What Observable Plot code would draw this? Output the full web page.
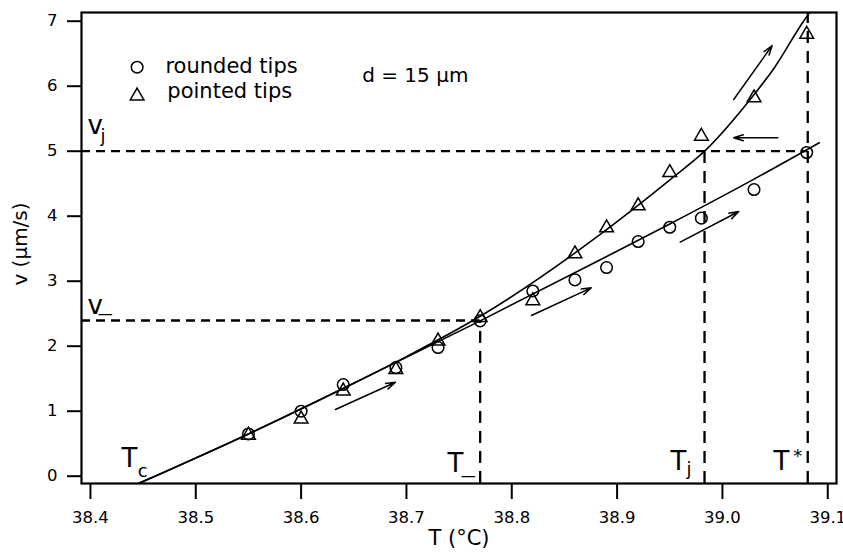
<!DOCTYPE html>
<html><head><meta charset="utf-8">
<script src="https://cdn.jsdelivr.net/npm/d3@7"></script>
<script src="https://cdn.jsdelivr.net/npm/@observablehq/plot@0.6"></script>
<style>body{margin:0;background:#fff} svg{display:block}</style>
</head><body><div id="chart"></div>
<script>
// ---- data ----
const tempT = [38.55,38.60,38.64,38.69,38.73,38.77,38.82,38.86,38.89,38.92,38.95,38.98,39.03,39.08];
const roundedV = [0.65,1.00,1.41,1.67,1.98,2.39,2.85,3.02,3.21,3.61,3.83,3.97,4.41,4.98];
const pointedV = [0.63,0.88,1.31,1.64,2.08,2.44,2.70,3.42,3.82,4.16,4.67,5.23,5.82,6.80];

// fitted curves
const lowerFitT = [38.446,38.55,38.65,38.77,38.884,38.95,39.03,39.092];
const lowerFitV = [-0.11,0.65,1.43,2.39,3.33,3.88,4.57,5.13];
const upperFitT = [38.446,38.55,38.65,38.70,38.77,38.884,38.951,38.983,39.025,39.05,39.077,39.085];
const upperFitV = [-0.11,0.65,1.43,1.84,2.46,3.72,4.57,5.00,5.77,6.30,7.00,7.18];

const xTicks = [38.4,38.5,38.6,38.7,38.8,38.9,39.0,39.1];
const yTicks = [0,1,2,3,4,5,6,7];
const xDomain = [38.3915, 39.1083];
const yDomain = [-0.1123, 7.1338];

// dashed reference lines
const levelV = [5.0, 2.395];
const levelEndT = [39.081, 38.77];
const tempLineT = [38.77, 38.983, 39.081];
const tempLineTopV = [2.395, 5.0, 7.1338];

// arrows: start (T,v) -> end (T,v)
const arrowT1 = [38.6326, 38.8187, 38.9599, 39.0525, 39.0107];
const arrowV1 = [1.026, 2.472, 3.600, 5.206, 5.795];
const arrowT2 = [38.6896, 38.8754, 39.0155, 39.0107, 39.0472];
const arrowV2 = [1.446, 2.898, 4.072, 5.206, 6.626];

// annotation labels
const bigText = ["T", "T", "T", "T", "v", "v"];
const bigT = [38.4294, 38.7389, 38.9507, 39.0485, 38.3972, 38.3972];
const bigV = [0.134, 0.0615, 0.0877, 0.0877, 5.272, 2.503];
const subText = ["c", "j", "*", "j"];
const subT = [38.4450, 38.9660, 39.0672, 38.4095];
const subV = [-0.005, 0.011, 0.215, 5.134];
const dashText = ["\u2014", "\u2014"];
const dashT = [38.7515, 38.4070];
const dashV = [-0.075, 2.415];

const circleLegendText = ["rounded tips"];
const triangleLegendText = ["pointed tips"];
const legendTextT = [38.4712, 38.4730];
const legendTextV = [6.20, 5.822];
const legendSymT = [38.4443, 38.4443];
const legendSymV = [6.292, 5.85];
const noteText = ["d = 15 \u00b5m"];
const noteT = [38.658];
const noteV = [6.065];

// ---- tables built from the arrays ----
const rounded = tempT.map((t, i) => ({T: t, v: roundedV[i]}));
const pointed = tempT.map((t, i) => ({T: t, v: pointedV[i]}));
const lowerFit = lowerFitT.map((t, i) => ({T: t, v: lowerFitV[i]}));
const upperFit = upperFitT.map((t, i) => ({T: t, v: upperFitV[i]}));
const levels = levelV.map((v, i) => ({v, T1: xDomain[0], T2: levelEndT[i]}));
const tempLines = tempLineT.map((t, i) => ({T: t, v1: yDomain[0], v2: tempLineTopV[i]}));
const arrows = arrowT1.map((t, i) => ({T1: t, v1: arrowV1[i], T2: arrowT2[i], v2: arrowV2[i]}));
const bigLabels = bigText.map((s, i) => ({s, T: bigT[i], v: bigV[i]}));
const subLabels = subText.map((s, i) => ({s, T: subT[i], v: subV[i]}));
const dashLabels = dashText.map((s, i) => ({s, T: dashT[i], v: dashV[i]}));
const legendLabels = [
  {s: circleLegendText[0], T: legendTextT[0], v: legendTextV[0]},
  {s: triangleLegendText[0], T: legendTextT[1], v: legendTextV[1]}
];
const legendCircle = [{T: legendSymT[0], v: legendSymV[0]}];
const legendTriangle = [{T: legendSymT[1], v: legendSymV[1]}];
const notes = noteText.map((s, i) => ({s, T: noteT[i], v: noteV[i]}));

const plot = Plot.plot({
  width: 843, height: 552,
  marginLeft: 81, marginRight: 7, marginTop: 12, marginBottom: 69,
  x: {domain: xDomain},
  y: {domain: yDomain},
  style: {fontFamily: "DejaVu Sans", fontSize: "16.5px", color: "black", background: "white"},
  marks: [
    Plot.axisX({ticks: xTicks, tickFormat: d3.format(".1f"), tickSize: 16, tickPadding: 12, strokeWidth: 2, label: null}),
    Plot.axisY({ticks: yTicks, tickFormat: d3.format("d"), tickSize: 14, tickPadding: 10, strokeWidth: 2, label: null}),
    Plot.ruleY(levels, {y: "v", x1: "T1", x2: "T2", strokeWidth: 2.3, strokeDasharray: "9,6"}),
    Plot.ruleX(tempLines, {x: "T", y1: "v1", y2: "v2", strokeWidth: 2.3, strokeDasharray: "12,8"}),
    Plot.line(lowerFit, {x: "T", y: "v", curve: "monotone-x", strokeWidth: 1.6, clip: true}),
    Plot.line(upperFit, {x: "T", y: "v", curve: "monotone-x", strokeWidth: 1.6, clip: true}),
    Plot.dot(rounded, {x: "T", y: "v", symbol: "circle", r: 5.8, stroke: "black", strokeWidth: 1.5, fill: "none"}),
    Plot.dot(pointed, {x: "T", y: "v", symbol: "triangle", r: 5.1, stroke: "black", strokeWidth: 1.5, fill: "none"}),
    Plot.arrow(arrows, {x1: "T1", y1: "v1", x2: "T2", y2: "v2", headLength: 10, headAngle: 35, strokeWidth: 1.5}),
    Plot.dot(legendCircle, {x: "T", y: "v", symbol: "circle", r: 5.8, stroke: "black", strokeWidth: 1.5, fill: "none"}),
    Plot.dot(legendTriangle, {x: "T", y: "v", symbol: "triangle", r: 5.1, stroke: "black", strokeWidth: 1.5, fill: "none"}),
    Plot.text(legendLabels, {x: "T", y: "v", text: "s", textAnchor: "start", lineAnchor: "bottom", fontSize: 21}),
    Plot.text(notes, {x: "T", y: "v", text: "s", textAnchor: "start", lineAnchor: "bottom", fontSize: 20}),
    Plot.text(bigLabels, {x: "T", y: "v", text: "s", textAnchor: "start", lineAnchor: "bottom", fontSize: 26}),
    Plot.text(subLabels, {x: "T", y: "v", text: "s", textAnchor: "start", lineAnchor: "bottom", fontSize: 18}),
    Plot.text(dashLabels, {x: "T", y: "v", text: "s", textAnchor: "start", lineAnchor: "bottom", fontSize: 15}),
    Plot.frame({strokeWidth: 2.2}),
    Plot.text(["v (\u00b5m/s)"], {frameAnchor: "left", textAnchor: "middle", lineAnchor: "middle", rotate: -90, dx: -61, dy: -4, fontSize: 20}),
    Plot.text(["T (\u00b0C)"], {frameAnchor: "bottom", textAnchor: "middle", lineAnchor: "bottom", dy: 61, fontSize: 21})
  ]
});
document.getElementById("chart").appendChild(plot);
</script>
</body></html>
